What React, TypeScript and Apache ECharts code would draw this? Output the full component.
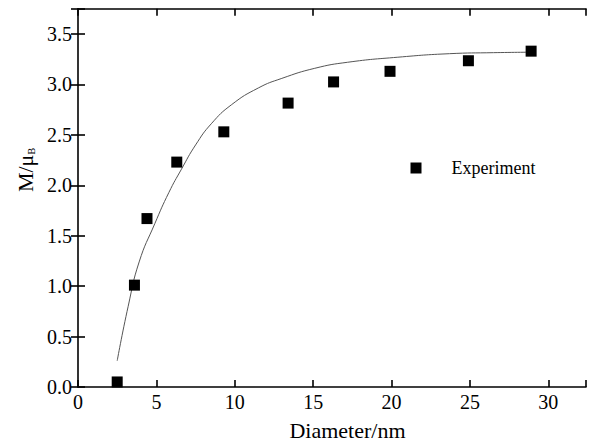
import React, { useEffect, useRef } from "react";
import * as echarts from "echarts";

const expDiameter = [2.5, 3.6, 4.4, 6.3, 9.3, 13.4, 16.3, 19.9, 24.9, 28.9];
const expMoment = [0.05, 1.01, 1.67, 2.23, 2.53, 2.815, 3.025, 3.13, 3.235, 3.33];

const fitDiameter = [2.5, 3.2, 3.9, 4.9, 5.8, 6.6, 7.5, 8.5, 9.8, 11.5, 13.0, 15.1, 17.2, 20.4, 23.7, 26.5, 29.0];
const fitMoment = [0.26, 0.8, 1.24, 1.62, 1.93, 2.16, 2.4, 2.61, 2.8, 2.965, 3.06, 3.16, 3.22, 3.27, 3.305, 3.315, 3.32];

const xTicks = [0, 5, 10, 15, 20, 25, 30];
const yTicks = [0, 0.5, 1, 1.5, 2, 2.5, 3, 3.5];

const FONT = "'Liberation Serif', 'Times New Roman', serif";

export default function App() {
  const ref = useRef<HTMLDivElement>(null);
  useEffect(() => {
    if (!ref.current) return;
    const chart = echarts.init(ref.current, undefined, { renderer: "svg" });
    const axisCommon = {
      min: 0,
      axisLine: { show: true, onZero: false, lineStyle: { color: "#000", width: 1.6 } },
      axisTick: { show: true, inside: true, length: 7, lineStyle: { color: "#000", width: 1.6 } },
      splitLine: { show: false },
    };
    chart.setOption({
      animation: false,
      backgroundColor: "#fff",
      grid: { left: 78, right: 0, top: 8.8, bottom: 58, containLabel: false },
      xAxis: [
        {
          ...axisCommon,
          type: "value",
          position: "bottom",
          max: 32.4,
          interval: 5,
          axisLabel: {
            show: true,
            margin: 5,
            fontFamily: FONT,
            fontSize: 20,
            lineHeight: 20,
            color: "#000",
            formatter: (v: number) => (xTicks.includes(v) ? String(v) : ""),
          },
        },
        {
          ...axisCommon,
          type: "value",
          position: "top",
          max: 32.4,
          interval: 5,
          axisLabel: { show: false },
        },
      ],
      yAxis: [
        {
          ...axisCommon,
          type: "value",
          position: "left",
          max: 3.75,
          interval: 0.5,
          axisLabel: {
            show: true,
            margin: 6,
            fontFamily: FONT,
            fontSize: 20,
            color: "#000",
            formatter: (v: number) => (yTicks.includes(v) ? v.toFixed(1) : ""),
          },
        },
        {
          ...axisCommon,
          type: "value",
          position: "right",
          max: 3.75,
          interval: 0.5,
          axisLine: { show: false },
          axisLabel: { show: false },
        },
      ],
      legend: {
        data: ["Experiment"],
        left: 410.5,
        top: 159,
        padding: 0,
        icon: "rect",
        itemWidth: 11,
        itemHeight: 11,
        itemGap: 10,
        itemStyle: { color: "#000", opacity: 1 },
        textStyle: { fontFamily: FONT, fontSize: 18, color: "#000", padding: [0, 0, 0, 25], lineHeight: 18 },
      },
      graphic: [
        {
          type: "text",
          x: 347.5,
          y: 441,
          style: {
            text: "Diameter/nm",
            font: `22px ${FONT}`,
            fill: "#000",
            textAlign: "center",
            textVerticalAlign: "bottom",
          },
        },
        {
          type: "text",
          x: 25,
          y: 170,
          rotation: Math.PI / 2,
          style: {
            text: "M/μ{b|B}",
            fontFamily: FONT,
            fontSize: 22,
            fill: "#000",
            align: "center",
            verticalAlign: "middle",
            rich: {
              b: { fontFamily: FONT, fontSize: 10, fill: "#000", verticalAlign: "bottom" },
            },
          },
        },
      ],
      series: [
        {
          name: "Fit",
          type: "line",
          data: fitDiameter.map((x, i) => [x, fitMoment[i]]),
          smooth: 0.5,
          showSymbol: false,
          symbol: "none",
          lineStyle: { color: "#555", width: 1 },
          z: 2,
        },
        {
          name: "Experiment",
          type: "scatter",
          data: expDiameter.map((x, i) => [x, expMoment[i]]),
          symbol: "rect",
          symbolSize: 11,
          itemStyle: { color: "#000", opacity: 1 },
          z: 3,
        },
      ],
    });
    return () => chart.dispose();
  }, []);
  return (
    <div
      ref={ref}
      style={{ position: "absolute", left: 0, top: 0, width: 589, height: 445 }}
    />
  );
}
